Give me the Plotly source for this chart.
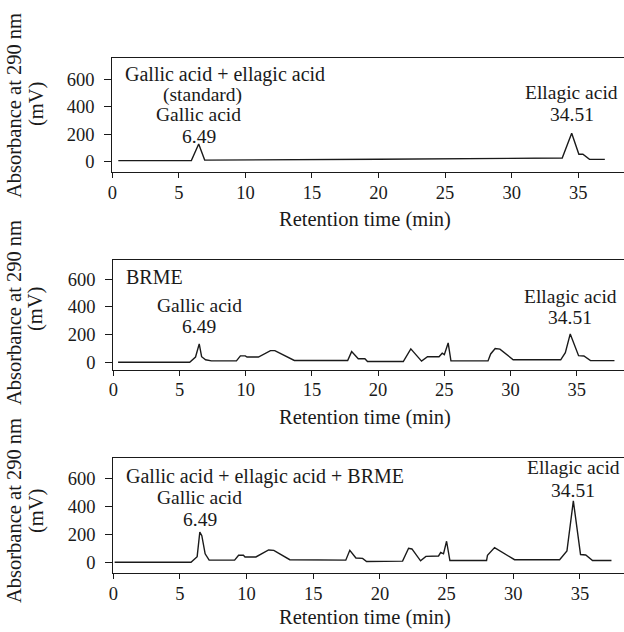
import plotly.graph_objects as go

# Retention times of the two reference compounds (min)
GALLIC_RT = 6.49
ELLAGIC_RT = 34.51

# Panel 1: gallic acid + ellagic acid standard
std_time = [0.45, 5.94, GALLIC_RT, 6.94, 20.0, 33.8, ELLAGIC_RT, 35.05, 35.35, 35.85, 37.0]
std_signal = [8, 8, 129, 12, 18, 27, 207, 54, 54, 17, 17]

# Panel 2: BRME extract
brme_time = [0.36, 5.77, 6.21, GALLIC_RT, 6.67, 6.97, 7.41, 9.3, 9.6, 9.97, 10.1, 10.96,
             11.87, 12.2, 13.67, 17.7, 18.0, 18.5, 19.0, 19.2, 21.9, 22.47, 23.28, 23.73,
             24.6, 24.84, 25.0, 25.29, 25.5, 28.3, 28.5, 28.84, 29.2, 30.2, 33.79, 34.14,
             ELLAGIC_RT, 35.14, 35.54, 36.04, 37.85]
brme_signal = [0, 0, 38, 133, 40, 18, 10, 10, 46, 46, 38, 38,
               84, 84, 13, 13, 77, 25, 25, 5, 5, 97, 8, 40,
               40, 65, 55, 140, 10, 10, 60, 100, 95, 18, 18, 70,
               205, 48, 45, 12, 12]

# Panel 3: standards spiked into BRME
mix_time = [0.1, 5.83, 6.29, GALLIC_RT, 6.64, 6.89, 7.19, 9.1, 9.4, 9.76, 9.88, 10.7,
            11.65, 12.04, 13.24, 17.44, 17.74, 18.2, 18.7, 19.0, 21.7, 22.15, 22.4, 23.05,
            23.45, 24.4, 24.56, 24.77, 25.0, 25.25, 28.0, 28.07, 28.6, 30.1, 33.48, 34.03,
            ELLAGIC_RT, 35.05, 35.44, 35.95, 37.37]
mix_signal = [0, 0, 40, 216, 190, 60, 15, 15, 50, 50, 38, 38,
              88, 85, 18, 15, 85, 30, 28, 5, 8, 100, 95, 10,
              42, 45, 70, 60, 150, 12, 12, 50, 105, 18, 18, 80,
              438, 55, 52, 12, 12]

sample_titles = ["Gallic acid + ellagic acid", "BRME", "Gallic acid + ellagic acid + BRME"]
y_ticks = [0, 200, 400, 600]
x_ticks = [0, 5, 10, 15, 20, 25, 30, 35]

W, H = 624, 632
FONT = "Liberation Serif, Times New Roman, DejaVu Serif, serif"
INK = "#1a1a1a"

# plot-box geometry (px) and axis ranges for the three stacked panels,
# plus text rows (px) for the labels inside each panel
panels = [
    dict(top=58.3, bottom=172.3, left=112.3, xmax=38.44, ymin=-77, ymax=753,
         title_y=75, gal_y=(115, 136), ell_y=(92, 115), ylab=(106, 104), xt_y=219.5),
    dict(top=260.0, bottom=370.0, left=113.3, xmax=38.57, ymin=-56, ymax=740,
         title_y=277, gal_y=(305, 326), ell_y=(296, 317), ylab=(313, 309), xt_y=417),
    dict(top=457.7, bottom=573.3, left=113.3, xmax=38.31, ymin=-79, ymax=747,
         title_y=476, gal_y=(497, 519), ell_y=(467, 490), ylab=(511, 511), xt_y=617.5),
]
series = [(std_time, std_signal), (brme_time, brme_signal), (mix_time, mix_signal)]


def py(px):
    """pixel row -> paper y"""
    return 1 - px / H


fig = go.Figure()
layout = dict(
    width=W, height=H, margin=dict(l=0, r=0, t=0, b=0),
    paper_bgcolor="white", plot_bgcolor="white", showlegend=False,
    font=dict(family=FONT, size=19, color=INK),
)

annotations = []


def label(text, x, y_px, xref, xanchor="center", size=19.5, angle=0):
    annotations.append(dict(text=text, x=x, y=py(y_px), xref=xref, yref="paper",
                            xanchor=xanchor, yanchor="middle", showarrow=False,
                            textangle=angle, font=dict(size=size)))


for i, (p, (t, s)) in enumerate(zip(panels, series)):
    n = "" if i == 0 else str(i + 1)
    fig.add_trace(go.Scatter(x=t, y=s, mode="lines", line=dict(color=INK, width=1.4),
                             xaxis="x" + n, yaxis="y" + n, hoverinfo="skip"))
    layout["xaxis" + n] = dict(
        domain=[p["left"] / W, 1.0], range=[0, p["xmax"]], anchor="y" + n,
        tickvals=x_ticks, ticks="outside", ticklen=5, tickwidth=1.2, tickcolor=INK,
        showline=True, linecolor=INK, linewidth=1.3, mirror=True,
        showgrid=False, zeroline=False, tickfont=dict(size=18.5), automargin=False,
        ticklabelstandoff=-2,
    )
    layout["yaxis" + n] = dict(
        domain=[py(p["bottom"]), py(p["top"])], range=[p["ymin"], p["ymax"]],
        anchor="x" + n, tickvals=y_ticks, ticks="outside", ticklen=7, tickwidth=1.2,
        tickcolor=INK, showline=True, linecolor=INK, linewidth=1.3, mirror=False,
        showgrid=False, zeroline=False, tickfont=dict(size=18.5), automargin=False,
        ticklabelstandoff=6,
    )
    label("Absorbance at 290 nm", 14 / W, p["ylab"][0], "paper", size=20.5, angle=-90)
    label("(mV)", 36 / W, p["ylab"][1], "paper", size=20.5, angle=-90)
    label("Retention time (min)", 365 / W, p["xt_y"], "paper", size=20.5)

    xr = "x" + n
    label(sample_titles[i], 0.8, p["title_y"], xr, xanchor="left", size=20)
    # peak labels placed at the retention times they report
    label("Gallic acid", GALLIC_RT, p["gal_y"][0], xr)
    label(f"{GALLIC_RT:.2f}", GALLIC_RT, p["gal_y"][1], xr)
    label("Ellagic acid", ELLAGIC_RT, p["ell_y"][0], xr)
    label(f"{ELLAGIC_RT:.2f}", ELLAGIC_RT, p["ell_y"][1], xr)

label("(standard)", 6.8, 94.5, "x")

layout["annotations"] = annotations
fig.update_layout(**layout)
fig.write_html("out.html")
